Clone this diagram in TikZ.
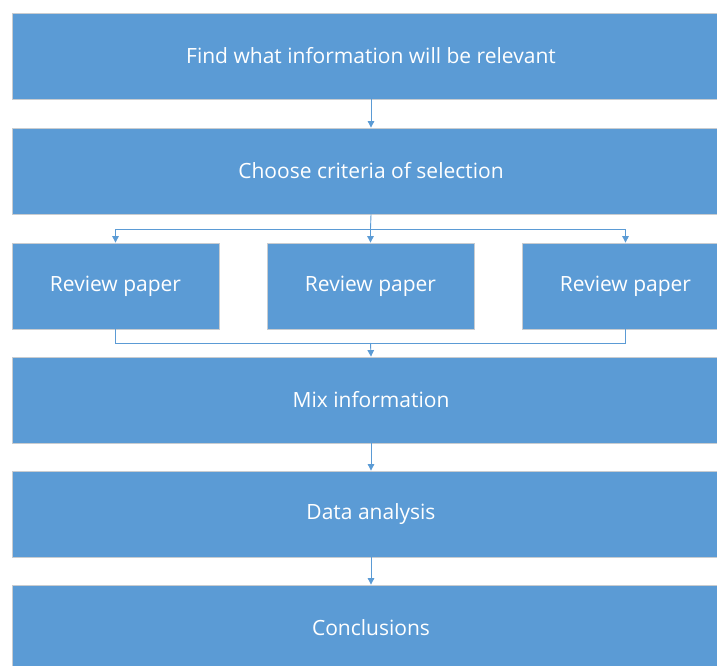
\documentclass[tikz,border=0pt]{standalone}
\usepackage{fontspec}
\setmainfont{Open Sans}
\usetikzlibrary{arrows.meta}
\definecolor{boxblue}{HTML}{5B9BD5}
\definecolor{edgegray}{HTML}{C8CCD0}
\begin{document}
\begin{tikzpicture}[x=1pt,y=1pt,
  box/.style={fill=boxblue, draw=edgegray, line width=0.8pt, text=white, minimum height=86pt, inner sep=0pt, font=\fontsize{21}{25}\selectfont},
  wide/.style={box, minimum width=718pt},
  narrow/.style={box, minimum width=207pt},
  conn/.style={draw=boxblue, line width=0.9pt},
  arr/.style={conn, -{Triangle[width=6.5pt,length=6.5pt]}}]
\useasboundingbox (0,0) rectangle (717,-666);
\clip (0,0) rectangle (717,-666);
\node[wide] (b1) at (371,-56) {Find what information will be relevant};
\node[wide] (b2) at (371,-171) {Choose criteria of selection};
\node[narrow] (r1) at (115.5,-286) {Review paper};
\node[narrow] (r2) at (370.5,-286) {Review paper};
\node[narrow] (r3) at (625.5,-286) {Review paper};
\node[wide] (b3) at (371,-400) {Mix information};
\node[wide] (b4) at (371,-514) {Data analysis};
\node[wide] (b5) at (371,-628) {Conclusions};
\coordinate (split) at (370.5,-229);
\coordinate (merge) at (370.5,-343);
\draw[arr] (b1.south) -- (b2.north);
\draw[conn] (b2.south) -- (split);
\draw[arr] (split) -| (r1.north);
\draw[arr] (split) -- (r2.north);
\draw[arr] (split) -| (r3.north);
\draw[conn] (r1.south) |- (merge);
\draw[conn] (r3.south) |- (merge);
\draw[arr] (merge) -- (b3.north);
\draw[arr] (b3.south) -- (b4.north);
\draw[arr] (b4.south) -- (b5.north);
\end{tikzpicture}
\end{document}
